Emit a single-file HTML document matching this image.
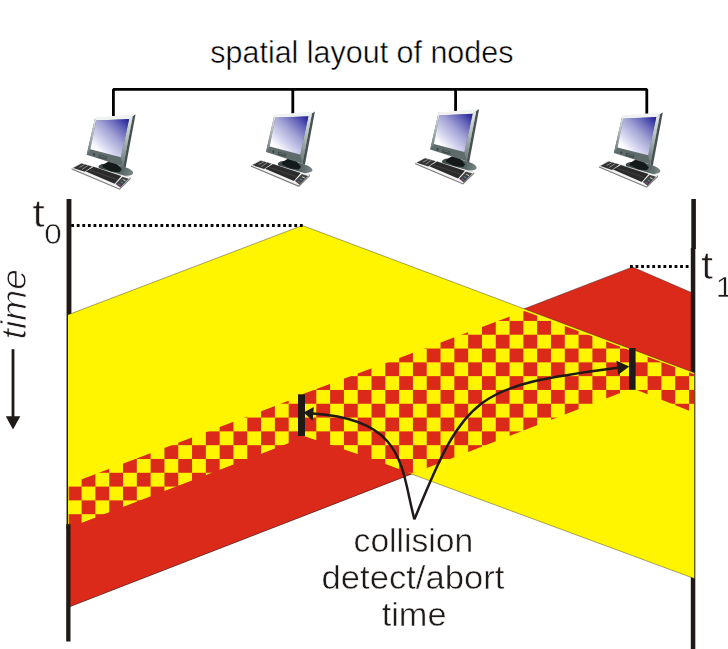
<!DOCTYPE html>
<html lang="en">
<head>
<meta charset="utf-8">
<title>spatial layout of nodes</title>
<style>
html,body{margin:0;padding:0;background:#fff;}
body{width:728px;height:649px;overflow:hidden;font-family:"Liberation Sans",sans-serif;}
svg{display:block;}
text{font-family:"Liberation Sans",sans-serif;}
.lt{fill:#1f1a17;stroke:#fff;stroke-width:0.9px;}
</style>
</head>
<body>
<svg width="728" height="649" viewBox="0 0 728 649">
<defs>
<pattern id="chk" patternUnits="userSpaceOnUse" x="67.8" y="514.2" width="27.61" height="27.61">
<rect x="0" y="0" width="13.805" height="13.805" fill="#dc2a1a"/>
<rect x="13.805" y="13.805" width="13.805" height="13.805" fill="#dc2a1a"/>
</pattern>
<clipPath id="yclip"><polygon points="302.40,225.50 694.30,372.70 694.30,590.00 411.43,481.00 360.00,462.00 302.40,444.00 68.70,535.00 68.70,314.80"/></clipPath>
<linearGradient id="scr" gradientUnits="userSpaceOnUse" x1="129.5" y1="119" x2="98" y2="151">
<stop offset="0" stop-color="#1b1996"/>
<stop offset="0.28" stop-color="#6a6abc"/>
<stop offset="0.52" stop-color="#a4a4d6"/>
<stop offset="0.78" stop-color="#d2d2ee"/>
<stop offset="1" stop-color="#ffffff"/>
</linearGradient>
<linearGradient id="bezl" gradientUnits="userSpaceOnUse" x1="95" y1="118" x2="88" y2="154">
<stop offset="0" stop-color="#e4e8e8"/>
<stop offset="0.5" stop-color="#a9b3b3"/>
<stop offset="1" stop-color="#6b7979"/>
</linearGradient>
<linearGradient id="bezr" gradientUnits="userSpaceOnUse" x1="131" y1="117" x2="122" y2="164">
<stop offset="0" stop-color="#e6eaea"/>
<stop offset="0.45" stop-color="#b3bcbc"/>
<stop offset="1" stop-color="#6f7c7c"/>
</linearGradient>
<linearGradient id="baseg" gradientUnits="userSpaceOnUse" x1="98" y1="168" x2="133" y2="172">
<stop offset="0" stop-color="#3c4747"/>
<stop offset="0.6" stop-color="#4f5c5c"/>
<stop offset="1" stop-color="#788686"/>
</linearGradient>
</defs>
<rect width="728" height="649" fill="#ffffff"/>

<!-- title -->
<g opacity="0.999"><text transform="translate(210.37,63.20) scale(0.9232,0.9300)" font-size="33" fill="#000" stroke="#fff" stroke-width="0.5">spatial layout of nodes</text></g>

<!-- bracket -->
<path d="M113.4 116.6 V89.4 H646.8 V114.8" fill="none" stroke="#000" stroke-width="2.8" stroke-linejoin="bevel"/>
<path d="M292.8 89 V114 M455.6 89 V111.6" fill="none" stroke="#000" stroke-width="2.8"/>

<!-- computers -->
<g transform="translate(0,0)"><g>
<ellipse cx="115.8" cy="169.8" rx="17.6" ry="5.2" fill="url(#baseg)" transform="rotate(11 115.8 169.8)"/>
<path d="M108.4 161.5 L116.6 163.6 L121.8 169.6 L119.4 172.2 L111 171.4 L102.4 167 L102.8 165 Z" fill="#141a1a"/>
<path d="M132.7 116 L135.6 114.3 L125.6 167.6 L123 166.4 Z" fill="#465252"/>
<path d="M95 118 L132.8 115.9 L123.2 166.5 L86.7 154.8 Z" fill="#5f6c6c"/>
<path d="M95 118 L96.1 120.4 L90.4 149.3 L86.7 154.8 Z" fill="url(#bezl)"/>
<path d="M129.1 119 L132.8 115.9 L123.2 166.5 L120.9 157.2 Z" fill="url(#bezr)"/>
<path d="M94.6 118.6 L95.4 117.4 L135.4 114.2 L132.8 116 L129.1 119.2 L96.1 120.6 Z" fill="#f1f3f3"/>
<path d="M96.1 120.4 L129.1 119 L120.9 157.2 L90.4 149.3 Z" fill="url(#scr)"/>
<ellipse cx="94" cy="154.5" rx="0.8" ry="1.4" fill="#2f3a3a"/>
<path d="M99 154.5 L107 156.6 L106.4 159.8 L98.4 157.6 Z" fill="#3f4b4b"/>
<path d="M99.8 155.9 L105.9 157.5" stroke="#7f8b8b" stroke-width="0.6" fill="none"/>
<path d="M71.6 168.4 L80.9 163 L130.7 177.5 L130.7 178.9 L119.6 189.7 L71.6 169.5 Z" fill="#7d7d7d"/>
<path d="M71.6 168.2 L80.9 163 L130.6 177.5 L119.4 188.4 Z" fill="#f4f4f4"/>
<path d="M73.1 167.9 L81.5 163.5 L92.2 166.5 L84.8 171.8 Z" fill="#333333"/>
<path d="M79.4 167.4 L84.4 164.7 M82 169.4 L87.8 165.6" stroke="#c9c9c9" stroke-width="0.6" fill="none"/>
<path d="M85.8 171.5 L93.6 166.8 L121.4 175.9 L114.6 183.8 Z" fill="#2b2b2b"/>
<path d="M90 170.2 L117.4 179.6" stroke="#555555" stroke-width="0.5" fill="none"/>
<path d="M115.6 183.9 L122.4 176.7 L128.8 178.7 L120.3 187.6 Z" fill="#444444"/>
<path d="M118.4 184.2 L120.6 185.2" stroke="#b050b0" stroke-width="0.9"/>
<path d="M120.6 182 L122.8 183" stroke="#40a0b8" stroke-width="0.9"/>
<path d="M122.8 179.6 L125.6 180.8" stroke="#d0d0d0" stroke-width="1"/>
</g>
</g>
<g transform="translate(179.3,-2.8)"><g>
<ellipse cx="115.8" cy="169.8" rx="17.6" ry="5.2" fill="url(#baseg)" transform="rotate(11 115.8 169.8)"/>
<path d="M108.4 161.5 L116.6 163.6 L121.8 169.6 L119.4 172.2 L111 171.4 L102.4 167 L102.8 165 Z" fill="#141a1a"/>
<path d="M132.7 116 L135.6 114.3 L125.6 167.6 L123 166.4 Z" fill="#465252"/>
<path d="M95 118 L132.8 115.9 L123.2 166.5 L86.7 154.8 Z" fill="#5f6c6c"/>
<path d="M95 118 L96.1 120.4 L90.4 149.3 L86.7 154.8 Z" fill="url(#bezl)"/>
<path d="M129.1 119 L132.8 115.9 L123.2 166.5 L120.9 157.2 Z" fill="url(#bezr)"/>
<path d="M94.6 118.6 L95.4 117.4 L135.4 114.2 L132.8 116 L129.1 119.2 L96.1 120.6 Z" fill="#f1f3f3"/>
<path d="M96.1 120.4 L129.1 119 L120.9 157.2 L90.4 149.3 Z" fill="url(#scr)"/>
<ellipse cx="94" cy="154.5" rx="0.8" ry="1.4" fill="#2f3a3a"/>
<path d="M99 154.5 L107 156.6 L106.4 159.8 L98.4 157.6 Z" fill="#3f4b4b"/>
<path d="M99.8 155.9 L105.9 157.5" stroke="#7f8b8b" stroke-width="0.6" fill="none"/>
<path d="M71.6 168.4 L80.9 163 L130.7 177.5 L130.7 178.9 L119.6 189.7 L71.6 169.5 Z" fill="#7d7d7d"/>
<path d="M71.6 168.2 L80.9 163 L130.6 177.5 L119.4 188.4 Z" fill="#f4f4f4"/>
<path d="M73.1 167.9 L81.5 163.5 L92.2 166.5 L84.8 171.8 Z" fill="#333333"/>
<path d="M79.4 167.4 L84.4 164.7 M82 169.4 L87.8 165.6" stroke="#c9c9c9" stroke-width="0.6" fill="none"/>
<path d="M85.8 171.5 L93.6 166.8 L121.4 175.9 L114.6 183.8 Z" fill="#2b2b2b"/>
<path d="M90 170.2 L117.4 179.6" stroke="#555555" stroke-width="0.5" fill="none"/>
<path d="M115.6 183.9 L122.4 176.7 L128.8 178.7 L120.3 187.6 Z" fill="#444444"/>
<path d="M118.4 184.2 L120.6 185.2" stroke="#b050b0" stroke-width="0.9"/>
<path d="M120.6 182 L122.8 183" stroke="#40a0b8" stroke-width="0.9"/>
<path d="M122.8 179.6 L125.6 180.8" stroke="#d0d0d0" stroke-width="1"/>
</g>
</g>
<g transform="translate(343.5,-5.2)"><g>
<ellipse cx="115.8" cy="169.8" rx="17.6" ry="5.2" fill="url(#baseg)" transform="rotate(11 115.8 169.8)"/>
<path d="M108.4 161.5 L116.6 163.6 L121.8 169.6 L119.4 172.2 L111 171.4 L102.4 167 L102.8 165 Z" fill="#141a1a"/>
<path d="M132.7 116 L135.6 114.3 L125.6 167.6 L123 166.4 Z" fill="#465252"/>
<path d="M95 118 L132.8 115.9 L123.2 166.5 L86.7 154.8 Z" fill="#5f6c6c"/>
<path d="M95 118 L96.1 120.4 L90.4 149.3 L86.7 154.8 Z" fill="url(#bezl)"/>
<path d="M129.1 119 L132.8 115.9 L123.2 166.5 L120.9 157.2 Z" fill="url(#bezr)"/>
<path d="M94.6 118.6 L95.4 117.4 L135.4 114.2 L132.8 116 L129.1 119.2 L96.1 120.6 Z" fill="#f1f3f3"/>
<path d="M96.1 120.4 L129.1 119 L120.9 157.2 L90.4 149.3 Z" fill="url(#scr)"/>
<ellipse cx="94" cy="154.5" rx="0.8" ry="1.4" fill="#2f3a3a"/>
<path d="M99 154.5 L107 156.6 L106.4 159.8 L98.4 157.6 Z" fill="#3f4b4b"/>
<path d="M99.8 155.9 L105.9 157.5" stroke="#7f8b8b" stroke-width="0.6" fill="none"/>
<path d="M71.6 168.4 L80.9 163 L130.7 177.5 L130.7 178.9 L119.6 189.7 L71.6 169.5 Z" fill="#7d7d7d"/>
<path d="M71.6 168.2 L80.9 163 L130.6 177.5 L119.4 188.4 Z" fill="#f4f4f4"/>
<path d="M73.1 167.9 L81.5 163.5 L92.2 166.5 L84.8 171.8 Z" fill="#333333"/>
<path d="M79.4 167.4 L84.4 164.7 M82 169.4 L87.8 165.6" stroke="#c9c9c9" stroke-width="0.6" fill="none"/>
<path d="M85.8 171.5 L93.6 166.8 L121.4 175.9 L114.6 183.8 Z" fill="#2b2b2b"/>
<path d="M90 170.2 L117.4 179.6" stroke="#555555" stroke-width="0.5" fill="none"/>
<path d="M115.6 183.9 L122.4 176.7 L128.8 178.7 L120.3 187.6 Z" fill="#444444"/>
<path d="M118.4 184.2 L120.6 185.2" stroke="#b050b0" stroke-width="0.9"/>
<path d="M120.6 182 L122.8 183" stroke="#40a0b8" stroke-width="0.9"/>
<path d="M122.8 179.6 L125.6 180.8" stroke="#d0d0d0" stroke-width="1"/>
</g>
</g>
<g transform="translate(527.2,-1.9)"><g>
<ellipse cx="115.8" cy="169.8" rx="17.6" ry="5.2" fill="url(#baseg)" transform="rotate(11 115.8 169.8)"/>
<path d="M108.4 161.5 L116.6 163.6 L121.8 169.6 L119.4 172.2 L111 171.4 L102.4 167 L102.8 165 Z" fill="#141a1a"/>
<path d="M132.7 116 L135.6 114.3 L125.6 167.6 L123 166.4 Z" fill="#465252"/>
<path d="M95 118 L132.8 115.9 L123.2 166.5 L86.7 154.8 Z" fill="#5f6c6c"/>
<path d="M95 118 L96.1 120.4 L90.4 149.3 L86.7 154.8 Z" fill="url(#bezl)"/>
<path d="M129.1 119 L132.8 115.9 L123.2 166.5 L120.9 157.2 Z" fill="url(#bezr)"/>
<path d="M94.6 118.6 L95.4 117.4 L135.4 114.2 L132.8 116 L129.1 119.2 L96.1 120.6 Z" fill="#f1f3f3"/>
<path d="M96.1 120.4 L129.1 119 L120.9 157.2 L90.4 149.3 Z" fill="url(#scr)"/>
<ellipse cx="94" cy="154.5" rx="0.8" ry="1.4" fill="#2f3a3a"/>
<path d="M99 154.5 L107 156.6 L106.4 159.8 L98.4 157.6 Z" fill="#3f4b4b"/>
<path d="M99.8 155.9 L105.9 157.5" stroke="#7f8b8b" stroke-width="0.6" fill="none"/>
<path d="M71.6 168.4 L80.9 163 L130.7 177.5 L130.7 178.9 L119.6 189.7 L71.6 169.5 Z" fill="#7d7d7d"/>
<path d="M71.6 168.2 L80.9 163 L130.6 177.5 L119.4 188.4 Z" fill="#f4f4f4"/>
<path d="M73.1 167.9 L81.5 163.5 L92.2 166.5 L84.8 171.8 Z" fill="#333333"/>
<path d="M79.4 167.4 L84.4 164.7 M82 169.4 L87.8 165.6" stroke="#c9c9c9" stroke-width="0.6" fill="none"/>
<path d="M85.8 171.5 L93.6 166.8 L121.4 175.9 L114.6 183.8 Z" fill="#2b2b2b"/>
<path d="M90 170.2 L117.4 179.6" stroke="#555555" stroke-width="0.5" fill="none"/>
<path d="M115.6 183.9 L122.4 176.7 L128.8 178.7 L120.3 187.6 Z" fill="#444444"/>
<path d="M118.4 184.2 L120.6 185.2" stroke="#b050b0" stroke-width="0.9"/>
<path d="M120.6 182 L122.8 183" stroke="#40a0b8" stroke-width="0.9"/>
<path d="M122.8 179.6 L125.6 180.8" stroke="#d0d0d0" stroke-width="1"/>
</g>
</g>

<!-- red region -->
<polygon points="632.50,267.00 692.50,293.00 692.50,412.00 632.50,388.20 68.00,607.30 68.00,484.50 302.40,395.60 302.40,394.20" fill="#dc2a1a" stroke="#1f1a17" stroke-width="0.4"/>
<!-- axes -->
<rect x="66.55" y="199" width="4.85" height="330" fill="#1f1a17"/>
<rect x="691.3" y="199" width="4.6" height="50" fill="#1f1a17"/>
<rect x="690.8" y="248" width="4.5" height="401" fill="#1f1a17"/>
<!-- yellow region -->
<polygon points="302.40,225.50 694.30,372.70 694.30,578.50 360.00,455.00 302.40,435.80 302.40,438.00 68.00,528.30 68.00,314.80" fill="#fff500"/>
<polyline points="68.00,314.80 302.40,225.50 694.30,372.70" fill="none" stroke="#1f1a17" stroke-width="0.4"/>
<polyline points="360.00,455.00 694.30,578.50" fill="none" stroke="#1f1a17" stroke-width="0.4"/>
<!-- collision checker -->
<g clip-path="url(#yclip)"><polygon points="524.40,311.00 694.30,374.30 694.30,412.71 632.50,388.20 68.00,607.30 68.00,484.50 302.40,395.60 302.40,394.20" fill="url(#chk)"/></g>
<polygon points="68.00,528.30 302.40,438.00 302.40,435.80 360.00,455.00 411.43,474.00 68.00,607.30" fill="#dc2a1a"/>
<polyline points="411.43,474.00 68.00,607.30" fill="none" stroke="#1f1a17" stroke-width="0.4"/>

<rect x="66.2" y="524.2" width="4.3" height="117.3" fill="#1f1a17"/>

<!-- dotted time markers -->
<line x1="71.2" y1="225.5" x2="302.9" y2="225.5" stroke="#000" stroke-width="3" stroke-dasharray="2.8 2.778"/>
<line x1="630" y1="266.6" x2="688.6" y2="266.6" stroke="#000" stroke-width="3" stroke-dasharray="2.8 2.77"/>

<!-- abort bars -->
<rect x="298" y="394.3" width="7" height="41.7" fill="#1f1a17"/>
<rect x="629" y="348" width="6.6" height="41.8" fill="#1f1a17"/>

<!-- arrows -->
<path d="M414.4 519.4 C400.8 468.1 406 419.5 312.8 413.6" fill="none" stroke="#1f1a17" stroke-width="2.5"/>
<path d="M303.6 412.6 L313.8 407 L312.7 420.8 Z" fill="#1f1a17"/>
<path d="M414.4 519.4 C465.5 393.1 475.5 386.4 617.5 367.7" fill="none" stroke="#1f1a17" stroke-width="2.5"/>
<path d="M629.2 366.6 L616.4 360.7 L618.2 374.7 Z" fill="#1f1a17"/>

<!-- labels -->
<g opacity="0.999">
<text transform="translate(32.35,226.80) scale(1.3787,1.1762)" font-size="33" fill="#1f1a17" stroke="#fff" stroke-width="0.6">t</text>
<text transform="translate(44.31,243.60) scale(0.9533,0.9153)" font-size="33" fill="#1f1a17" stroke="#fff" stroke-width="0.65">0</text>
<text transform="translate(700.89,279.40) scale(1.3277,1.1810)" font-size="33" fill="#1f1a17" stroke="#fff" stroke-width="0.6">t</text>
<text transform="translate(715.81,297.30) scale(0.9500,0.8932)" font-size="33" fill="#1f1a17" stroke="#fff" stroke-width="0.65">1</text>
<text transform="translate(26.00,339.36) rotate(-90) scale(1.1252,1.0900)" font-size="33" fill="#1f1a17" stroke="#fff" stroke-width="0.75" font-style="italic">time</text>
<line x1="13" y1="349.2" x2="13" y2="418" stroke="#1f1a17" stroke-width="2.8"/>
<path d="M5.8 416.2 L20.3 416.2 L13 429.6 Z" fill="#1f1a17"/>
<text transform="translate(353.60,552.30) scale(1.0191,1.0100)" font-size="33" fill="#1f1a17" stroke="#fff" stroke-width="0.48">collision</text>
<text transform="translate(321.55,588.90) scale(1.0490,1.0100)" font-size="33" fill="#1f1a17" stroke="#fff" stroke-width="0.48">detect/abort</text>
<text transform="translate(381.63,625.50) scale(1.0412,1.0100)" font-size="33" fill="#1f1a17" stroke="#fff" stroke-width="0.48">time</text>
</g>
</svg>
</body>
</html>
